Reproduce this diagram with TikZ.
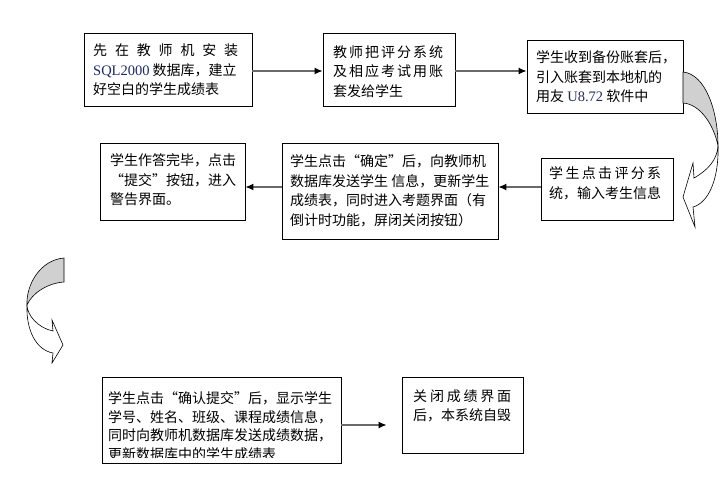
\documentclass[tikz,border=0pt]{standalone}
\usepackage{fontspec}
\newfontfamily\cjkf{Noto Sans CJK SC}
\newfontfamily\latf{Liberation Serif}
\usetikzlibrary{arrows.meta,calc}
\definecolor{latcol}{RGB}{30,40,110}
\definecolor{ribbon}{RGB}{208,208,208}
\definecolor{arrgray}{RGB}{105,105,105}
\newcommand{\lt}[1]{{\latf\fontsize{14.5}{19}\selectfont\color{latcol}#1}}
\newcommand{\spreadln}[2]{\makebox[#1][s]{#2}}
\begin{document}
\begin{tikzpicture}[x=1pt,y=-1pt,
  box/.style={draw=black,line width=0.8pt,inner sep=0pt,rectangle},
  txt/.style={inner sep=0pt,anchor=west,align=left,font=\cjkf\fontsize{14}{19.5}\selectfont},
  txtb/.style={inner sep=0pt,anchor=west,align=left,font=\cjkf\fontsize{14}{18.5}\selectfont},
  flow/.style={draw=arrgray,line width=1.3pt,-{Latex[length=8pt,width=7pt,color=black]}},
  band/.style={draw=black,line width=0.6pt,fill=ribbon},
  face/.style={draw=black,line width=0.6pt,fill=white}]
\fill[white] (0,0) rectangle (725,503);
\useasboundingbox (0,0) rectangle (725,503);

% boxes
\node[box,minimum width=168pt,minimum height=73pt] (b1) at (168,69.5) {};
\node[box,minimum width=132pt,minimum height=73pt] (b2) at (389,69.5) {};
\node[box,minimum width=156pt,minimum height=73pt] (b3) at (605,76.5) {};
\node[box,minimum width=132pt,minimum height=62pt] (b4) at (607,189) {};
\node[box,minimum width=216pt,minimum height=96pt] (b5) at (390,191) {};
\node[box,minimum width=145pt,minimum height=77pt] (b6) at (172.5,181.5) {};
\node[box,minimum width=239pt,minimum height=86pt] (b7) at (221.5,420) {};
\node[box,minimum width=121pt,minimum height=76pt] (b8) at (462.5,415) {};

% texts
\node[txt] (t1) at (93,70) {\spreadln{145pt}{先\hfill 在\hfill 教\hfill 师\hfill 机\hfill 安\hfill 装}\\
\lt{SQL2000} 数据库，建立\\
好空白的学生成绩表};
\node[txt] (t2) at (333,71.5) {\spreadln{110pt}{教\hfill 师\hfill 把\hfill 评\hfill 分\hfill 系\hfill 统}\\
\spreadln{110pt}{及\hfill 相\hfill 应\hfill 考\hfill 试\hfill 用\hfill 账}\\
套发给学生};
\node[txt] (t3) at (536,77) {学生收到备份账套后，\\
引入账套到本地机的\\
用友 \lt{U8.72} 软件中};
\node[txt] (t4) at (549,183.5) {\spreadln{112pt}{学\hfill 生\hfill 点\hfill 击\hfill 评\hfill 分\hfill 系}\\
统，输入考生信息};
\node[txt] (t5) at (290,191) {学生点击“确定”后，向教师机\\
数据库发送学生 信息，更新学生\\
成绩表，同时进入考题界面（有\\
倒计时功能，屏闭关闭按钮）};
\node[txt] (t6) at (110,180) {学生作答完毕，点击\\
“提交”按钮，进入\\
警告界面。};
\begin{scope}
\clip (b7.north west) rectangle ($(b7.south east)+(0,-6)$);
\node[txtb] (t7) at (108,426) {学生点击“确认提交”后，显示学生\\
学号、姓名、班级、课程成绩信息，\\
同时向教师机数据库发送成绩数据，\\
更新数据库中的学生成绩表};
\end{scope}
\node[txtb] (t8) at (413,406) {\spreadln{98pt}{关\hfill 闭\hfill 成\hfill 绩\hfill 界\hfill 面}\\
后，本系统自毁};

% straight connectors
\coordinate (a12) at ($(b1.east)+(0,1.5)$);
\coordinate (a23) at ($(b2.east)+(0,1.5)$);
\coordinate (a45) at ($(b4.west)+(0,-2)$);
\coordinate (a56) at ($(b5.west)+(0,-4)$);
\coordinate (a78) at ($(b7.east)+(0,5)$);
\draw[flow] (a12) -- (a12 -| b2.west);
\draw[flow] (a23) -- (a23 -| b3.west);
\draw[flow] (a45) -- (a45 -| b5.east);
\draw[flow] (a56) -- (a56 -| b6.east);
\draw[flow,shorten >=15pt] (a78) -- (a78 -| b8.west);

% right curved arrow (b3 -> b4)
\draw[band] (683,72) .. controls (705,74) and (718,110) .. (718,146)
  .. controls (714,125) and (700,104) .. (683,103) -- cycle;
\draw[face] (718,146) .. controls (719,180) and (708,203) .. (693,207)
  -- (695,227) -- (683,197) -- (693,163) -- (694,178)
  .. controls (708,170) and (717,160) .. (718,146) -- cycle;

% left curved arrow
\draw[band] (64,258) .. controls (40,260) and (26,285) .. (27,305)
  .. controls (32,293) and (48,283) .. (64,282) -- cycle;
\draw[face] (27,305) .. controls (27,315) and (38,328) .. (53,331)
  -- (52,320) -- (63,345) -- (52,363) -- (53,353)
  .. controls (36,350) and (26,330) .. (27,305) -- cycle;
\end{tikzpicture}
\end{document}
